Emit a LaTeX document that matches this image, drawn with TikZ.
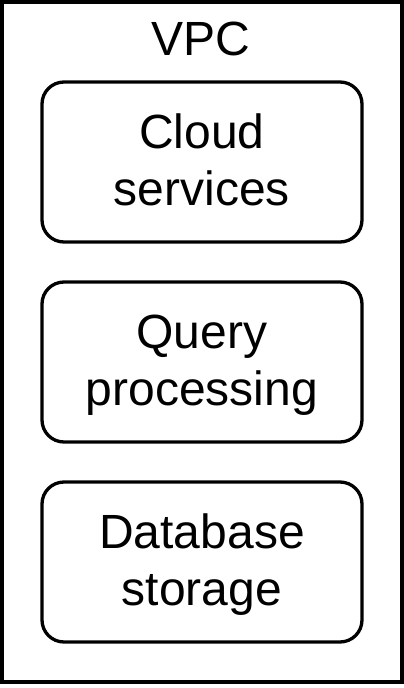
\documentclass[tikz,border=0pt]{standalone}
\usepackage{fontspec}
\setmainfont{Liberation Sans}
\begin{document}
\begin{tikzpicture}[x=1pt,y=-1pt,
  layer/.style={draw=black, line width=3.3pt, rounded corners=22pt,
    minimum width=320pt, minimum height=160pt, inner sep=0pt,
    text height=40pt, text depth=68pt, align=center,
    font=\fontsize{48}{57}\selectfont},
  title/.style={inner sep=0pt, anchor=base, font=\fontsize{48}{57}\selectfont}]
\useasboundingbox (0,0) rectangle (404,688);
\node[draw=black, line width=4pt, minimum width=400pt, minimum height=680pt, inner sep=0pt] (vpc) at (202,342) {};
\node[title] (vpctitle) at (201,55) {VPC};
\node[layer] (cloud) at (202,162) {\begin{tabular}[t]{@{}c@{}}Cloud\\services\end{tabular}};
\node[layer] (query) at (202,362) {\begin{tabular}[t]{@{}c@{}}Query\\processing\end{tabular}};
\node[layer] (db) at (202,562) {\begin{tabular}[t]{@{}c@{}}Database\\storage\end{tabular}};
\end{tikzpicture}
\end{document}
